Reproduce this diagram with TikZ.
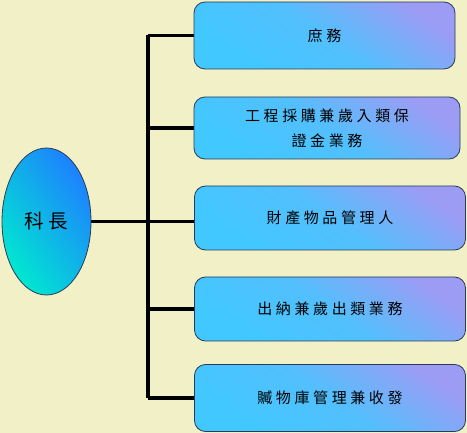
\documentclass[tikz,border=0pt]{standalone}
\usepackage{fontspec}
\setmainfont{Noto Sans CJK TC}[LetterSpace=24]
\usetikzlibrary{shapes.geometric,backgrounds}
\definecolor{paper}{RGB}{242,240,198}
\definecolor{boxcyan}{RGB}{64,200,255}
\definecolor{boxlav}{RGB}{156,156,244}
\definecolor{chiefblue}{RGB}{30,128,255}
\definecolor{chiefgreen}{RGB}{0,232,208}
\definecolor{rim}{RGB}{40,60,90}
\tikzset{
  duty/.style={draw=rim, line width=0.8pt, rounded corners=11pt,
    bottom color=boxcyan, top color=boxlav, middle color=boxcyan!80!boxlav,
    shading angle=-35, align=center, font=\fontsize{15}{25}\selectfont},
  chiefnode/.style={ellipse, draw=rim, line width=0.8pt,
    bottom color=chiefgreen, top color=chiefblue, shading angle=-55,
    minimum width=89pt, minimum height=147pt, inner sep=0pt,
    font=\fontsize{19.5}{24}\selectfont},
  branch/.style={line width=3.6pt}
}
\begin{document}
\begin{tikzpicture}[x=1pt,y=-1pt]
  \useasboundingbox (0,0) rectangle (467,433);
  \node[chiefnode] (chief) at (46.5,221.5) {科長};
  \node[duty, minimum width=261pt, minimum height=67pt] (clerk) at (324.5,35.5) {庶務};
  \node[duty, minimum width=266pt, minimum height=62pt] (bond) at (327,128) {工程採購兼歲入類保\\證金業務};
  \node[duty, minimum width=271pt, minimum height=64pt] (asset) at (330,218) {財產物品管理人};
  \node[duty, minimum width=271pt, minimum height=64pt] (cash) at (330,309) {出納兼歲出類業務};
  \node[duty, minimum width=271pt, minimum height=67pt] (store) at (330,398) {贓物庫管理兼收發};
  \coordinate (trunk) at (148,0);
  % connectors
  \begin{scope}[on background layer]
    \fill[paper] (0,0) rectangle (467,433);
    \draw[branch] (clerk.west -| trunk) -- (store.west -| trunk);
    \draw[branch] (chief.east) -- (chief.east -| asset.west);
    \foreach \b in {clerk,bond,cash,store}
      \draw[branch] (\b.west -| trunk) -- (\b.west);
  \end{scope}
\end{tikzpicture}
\end{document}
